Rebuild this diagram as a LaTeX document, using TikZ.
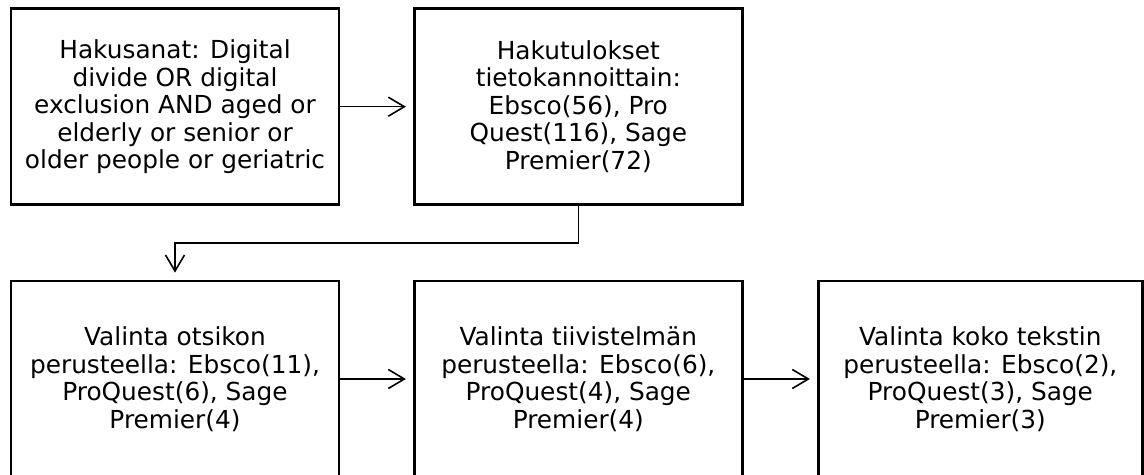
\documentclass[tikz,border=0pt]{standalone}
\usepackage{fontspec}
\setmainfont{DejaVu Sans}
\usepackage{tikz}
\usetikzlibrary{arrows.meta}

\begin{document}
\begin{tikzpicture}[x=.5pt,y=-.5pt,
	vaihe/.style={draw,line width=1.4pt,minimum width=164pt,minimum height=98pt,inner sep=0pt,align=center,font=\fontsize{12.4}{13.75}\selectfont},
	nuoli/.style={line width=.8pt,-{Straight Barb[length=8pt,width=9.5pt]},shorten >=3.5pt}]
	\useasboundingbox (0,0) rectangle (1144,475);%khung hinh
	\node[vaihe](H) at (175,106.7) {Hakusanat: Digital\\divide OR digital\\exclusion AND aged or\\elderly or senior or\\older people or geriatric};%hakusanat
	\node[vaihe](T) at (578.3,106.7) {Hakutulokset\\tietokannoittain:\\Ebsco(56), Pro\\Quest(116), Sage\\Premier(72)};%hakutulokset
	\node[vaihe](O) at (175,379) {Valinta otsikon\\perusteella: Ebsco(11),\\ProQuest(6), Sage\\Premier(4)};%otsikko
	\node[vaihe](Tv) at (578.3,379) {Valinta tiivistelmän\\perusteella: Ebsco(6),\\ProQuest(4), Sage\\Premier(4)};%tiivistelma
	\node[vaihe,minimum width=162pt](K) at (980.3,379) {Valinta koko tekstin\\perusteella: Ebsco(2),\\ProQuest(3), Sage\\Premier(3)};%koko teksti
	\coordinate (M) at (0,243);%muta gap
	\draw[nuoli] (H)--(T);
	\draw[nuoli] (T.south)|-(O.north|-M)--(O.north);
	\draw[nuoli] (O)--(Tv);
	\draw[nuoli] (Tv)--(K);
\end{tikzpicture}
\end{document}
